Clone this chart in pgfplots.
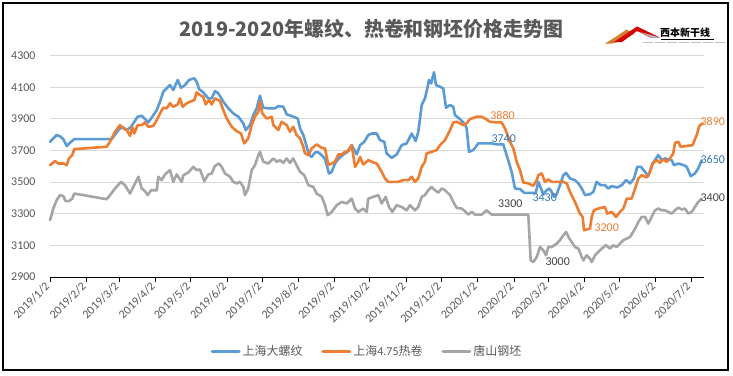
\documentclass[border=0pt]{standalone}
\usepackage{fontspec}
\setmainfont{Carlito}
\newfontfamily\cjk{Noto Sans CJK SC}
\usepackage{pgfplots}
\pgfplotsset{compat=1.18}
\definecolor{cblue}{HTML}{5B9BD5}
\definecolor{corange}{HTML}{ED7D31}
\definecolor{cgray}{HTML}{A5A5A5}
\definecolor{txt}{HTML}{595959}
\definecolor{gridc}{HTML}{D9D9D9}
\definecolor{lblue}{HTML}{2E75B6}
\definecolor{ldark}{HTML}{404040}
\begin{document}
\begin{tikzpicture}[x=1bp,y=1bp]
\useasboundingbox (0,0) rectangle (733,375);
\fill[white] (0,0) rectangle (733,375);
\draw[black, line width=1.2bp] (3,5) rectangle (728,372);
\begin{axis}[
  at={(50bp,98bp)}, anchor=south west, scale only axis,
  width=654.3bp, height=221.3bp,
  xmin=0, xmax=558.4, ymin=2900, ymax=4300,
  clip=false,
  axis x line*=bottom, axis y line*=left,
  y axis line style={draw=none},
  x axis line style={black, line width=1bp},
  ytick={2900,3100,...,4300},
  ytick style={draw=none},
  xtick={0,31,59,90,120,151,181,212,243,273,304,334,365,396,425,456,486,517,547},
  xticklabels={2019/1/2,2019/2/2,2019/3/2,2019/4/2,2019/5/2,2019/6/2,2019/7/2,2019/8/2,2019/9/2,2019/10/2,2019/11/2,2019/12/2,2020/1/2,2020/2/2,2020/3/2,2020/4/2,2020/5/2,2020/6/2,2020/7/2},
  xtick style={black, line width=0.8bp},
  tick align=outside, major tick length=5bp,
  ymajorgrids, grid style={gridc, line width=0.9bp},
  /pgf/number format/assume math mode=true,
  /pgf/number format/1000 sep={},
  yticklabel style={font=\fontsize{12}{14}\selectfont, text=txt, xshift=-6bp},
  xticklabel style={font=\fontsize{12}{14}\selectfont, text=txt, rotate=45, anchor=east},
  legend columns=3,
  legend style={at={(axis description cs:0.4845,-0.3344)}, anchor=center, draw=none, fill=none,
    font=\fontsize{12}{14}\selectfont, text=txt,
    /tikz/every even column/.append style={column sep=17bp}, inner sep=1bp},
  legend cell align=left,
  legend image code/.code={\draw[#1, line width=3bp, line cap=round] (0bp,0bp) -- (27bp,0bp);},
  every axis plot/.append style={line width=2.6bp, line join=round, line cap=round},
]
\addplot[cblue] coordinates {
(0,3755)(5.7,3798)(8.5,3790)(11.4,3772)(14.3,3728)(17.1,3750)(20.7,3772)(48.4,3772)(52.7,3772)(58.3,3829)(61.7,3850)(65.5,3829)(69.1,3850)(74.8,3914)(78.3,3920)(81.1,3899)(83.9,3878)(87.3,3914)(91.1,3956)(93.9,4009)(96.7,4072)(102.4,4114)(105.2,4083)(109,4146)(111.8,4097)(115.2,4114)(118.6,4146)(123.1,4157)(125.2,4135)(127.2,4089)(130.8,4068)(135.1,4030)(138,4030)(140.8,4076)(143.6,4062)(147.9,4009)(152.2,3967)(156.4,3935)(160.7,3914)(165,3872)(167,3829)(170.7,3861)(173.5,3924)(176.4,3967)(179.2,4047)(182,3971)(186.3,3967)(192,3967)(194.8,3981)(199.1,3977)(202,3929)(207.6,3914)(211.4,3903)(213.4,3840)(216.2,3798)(219.1,3724)(221,3675)(223.3,3660)(226.2,3688)(229,3688)(231.9,3671)(234.7,3646)(238.1,3555)(240.4,3565)(243.2,3618)(246,3646)(250.3,3675)(253.2,3688)(257.5,3734)(261.8,3675)(264.6,3734)(268.2,3755)(271.6,3798)(274.8,3808)(278.8,3808)(281.6,3766)(285.3,3755)(287.3,3682)(291.6,3654)(295.9,3675)(300.1,3734)(304.4,3745)(308.7,3808)(312.1,3760)(314.3,3819)(315.8,3903)(317.2,3988)(320,4030)(322,4093)(323.4,4146)(325.2,4125)(327.7,4195)(329.4,4114)(332.8,4104)(335.6,4093)(338,3971)(341.4,3988)(344.2,3977)(345.6,3924)(349.9,3899)(354.2,3865)(355.6,3840)(357.6,3692)(361.2,3703)(365.5,3745)(376.9,3745)(381.2,3739)(386.8,3739)(389.7,3671)(394,3565)(396.8,3460)(401.1,3456)(404.8,3432)(414.5,3432)(416.7,3502)(421,3424)(423.9,3449)(426.1,3460)(428.2,3438)(430.1,3407)(432.4,3424)(435.2,3481)(438.1,3544)(440.4,3559)(443.8,3523)(448,3513)(450.9,3492)(453.8,3460)(456.6,3418)(460.8,3424)(463.7,3438)(466.5,3502)(470,3481)(473.6,3481)(476.4,3460)(479.4,3475)(484.1,3466)(487.9,3481)(491.6,3513)(495,3492)(498.4,3523)(501.2,3597)(504.3,3597)(507.8,3565)(510.6,3538)(514.3,3618)(519.1,3671)(522,3639)(524.8,3650)(530.6,3639)(532.5,3607)(536.2,3618)(541,3607)(543.4,3597)(546.8,3538)(550.4,3555)(553.2,3587)(556.2,3639)
};
\addlegendentry{{\cjk 上海大螺纹}}
\addplot[corange] coordinates {
(0,3608)(4.3,3633)(7.1,3618)(11.4,3618)(14.3,3608)(16.2,3650)(19,3671)(20.7,3709)(48.4,3724)(51.2,3755)(55.5,3819)(59.7,3861)(62.6,3840)(65.5,3829)(68.3,3793)(70.2,3850)(71.9,3808)(74.8,3861)(78.3,3861)(81.1,3878)(83.9,3850)(88.2,3856)(91.1,3893)(93.9,3935)(96.7,3971)(99.6,3967)(102.4,3999)(105.2,3977)(109,3992)(110.9,4030)(113.2,3977)(116.7,3999)(120.9,4013)(123.1,4019)(125.2,4068)(128,4051)(130.8,4040)(132.9,3992)(135.7,4019)(138,3992)(140.8,4030)(145.1,4013)(147.9,3956)(150.8,3903)(155.1,3850)(159.3,3823)(163,3808)(165.8,3745)(169.2,3777)(172.1,3861)(174.9,3914)(177.8,3945)(179.2,4009)(181.2,3935)(184.9,3903)(189.2,3914)(190.6,3861)(194.8,3829)(197.7,3882)(202,3861)(204.8,3819)(207.6,3850)(210.5,3798)(213.4,3777)(216.2,3724)(217.6,3682)(220.5,3671)(223.3,3713)(227.6,3739)(231.9,3717)(234.7,3713)(237.5,3608)(240.4,3618)(243.2,3629)(246,3675)(248.9,3675)(251.8,3692)(254.6,3696)(257.5,3734)(260.3,3597)(263.1,3629)(264.6,3660)(267.4,3612)(271.6,3639)(275.9,3625)(278.8,3618)(283.1,3565)(285.9,3523)(288.7,3502)(297.2,3502)(301.5,3513)(305.8,3513)(308.7,3534)(311.5,3502)(314.3,3523)(317.2,3597)(320,3629)(321.4,3682)(325.7,3692)(330,3703)(332.8,3734)(337.1,3766)(341.4,3829)(344.2,3878)(347.1,3882)(352.7,3861)(355.6,3872)(358.4,3899)(364.1,3914)(368.4,3914)(371.2,3903)(375.5,3882)(381.2,3878)(385.4,3878)(388.3,3840)(392.6,3755)(395.4,3713)(398.3,3629)(401.1,3576)(403.9,3498)(408.2,3492)(412.5,3477)(415.4,3513)(416.7,3544)(419.6,3555)(422.4,3502)(425.2,3517)(428.2,3502)(438.1,3502)(441,3492)(443.8,3438)(448,3375)(452.3,3301)(454.6,3280)(455.7,3196)(460.8,3206)(462.3,3280)(464.2,3322)(467.9,3333)(473.6,3343)(475.6,3301)(479.4,3312)(483.1,3280)(486.4,3312)(489.3,3333)(492.2,3396)(496.4,3396)(499.3,3460)(502.1,3523)(505,3544)(509.2,3530)(512,3565)(514.3,3618)(517.8,3639)(520.6,3622)(523.4,3644)(526.3,3629)(529.1,3650)(531.9,3682)(533.4,3749)(536.2,3755)(538.2,3724)(548.4,3734)(551.9,3798)(554.1,3855)(557,3872)
};
\addlegendentry{{\cjk 上海}4.75{\cjk 热卷}}
\addplot[cgray] coordinates {
(0,3259)(2.8,3333)(5.7,3386)(8.5,3418)(11.4,3411)(13.4,3380)(16.2,3380)(19,3396)(20.7,3428)(48.4,3392)(51.2,3418)(55.5,3460)(60.6,3502)(64,3481)(68.3,3428)(71.1,3470)(75.4,3534)(78.3,3460)(81.1,3443)(83.4,3418)(86.2,3449)(91.1,3449)(92.4,3534)(95.3,3513)(98.1,3549)(102.4,3576)(105.2,3502)(108.1,3549)(112.4,3502)(113.8,3544)(118,3561)(122.3,3597)(125.2,3576)(128,3580)(131.7,3506)(135.1,3549)(138,3555)(140.8,3603)(144.2,3618)(146.5,3597)(149.3,3555)(153.6,3534)(156.4,3502)(159.3,3492)(162.1,3502)(165,3470)(166.4,3418)(169.2,3460)(172.1,3576)(174.9,3607)(177.8,3671)(179.2,3692)(182,3629)(186.3,3618)(190.6,3650)(193.5,3629)(196.3,3639)(199.1,3622)(202,3650)(204.8,3622)(207.6,3650)(210.5,3607)(213.4,3565)(217,3544)(220.5,3481)(224.7,3470)(227.6,3428)(231.9,3407)(234.7,3354)(237,3291)(240.4,3312)(244.7,3354)(248.9,3375)(253.2,3365)(257.5,3396)(260.3,3333)(263.1,3312)(267.4,3333)(270.3,3312)(271.6,3396)(275.9,3407)(280.2,3418)(283.1,3365)(286.5,3407)(289.3,3343)(292.1,3312)(295.9,3354)(300.1,3343)(304.4,3322)(307.2,3354)(311.5,3322)(314.3,3343)(317.2,3407)(320,3418)(322.8,3449)(325.7,3470)(328.6,3449)(331.4,3434)(334.3,3460)(337.1,3449)(341.4,3418)(344.2,3375)(347.1,3337)(351.3,3333)(354.2,3316)(357,3295)(359.9,3312)(362.7,3295)(368.4,3295)(372.6,3322)(376.9,3295)(408.2,3295)(410.2,3006)(412.5,2995)(415.4,3027)(418.2,3090)(421,3069)(423.3,3037)(425.2,3090)(428.2,3090)(432.4,3111)(435.2,3133)(438.1,3164)(440.4,3185)(443.2,3143)(445.2,3122)(448,3090)(450.9,3080)(453.8,3027)(455.2,3006)(458,3037)(460.8,3016)(462.3,2995)(465.1,3037)(467.9,3058)(470.8,3080)(474.5,3101)(477.9,3080)(480.7,3101)(483.6,3090)(486.4,3111)(489.3,3133)(492.2,3143)(495,3153)(499.3,3206)(502.1,3248)(505,3280)(507.8,3280)(510.6,3238)(513.5,3280)(516.3,3322)(519.1,3333)(522,3322)(524.8,3322)(527.7,3312)(530.6,3301)(533.4,3322)(536.2,3339)(539.1,3327)(541.9,3333)(544.7,3301)(547.6,3312)(550.4,3343)(553.2,3375)(556.2,3396)
};
\addlegendentry{{\cjk 唐山钢坯}}
\begin{scope}[every node/.style={font=\fontsize{12}{14}\selectfont, inner sep=0pt}]
\node[text=corange] at (axis cs:386.2,3921) {3880};
\node[text=lblue] at (axis cs:387.2,3774) {3740};
\node[text=ldark] at (axis cs:392.8,3367) {3300};
\node[text=lblue] at (axis cs:422.2,3404) {3430};
\node[text=corange] at (axis cs:475.1,3214) {3200};
\node[text=ldark] at (axis cs:433.3,2998) {3000};
\node[text=corange] at (axis cs:565.6,3885) {3890};
\node[text=lblue] at (axis cs:565.6,3642) {3650};
\node[text=ldark] at (axis cs:565.6,3399) {3400};
\end{scope}
\end{axis}
% title
\node[text=txt, font=\cjk\bfseries\fontsize{20}{22}\selectfont] at (371.5,346) {2019-2020年螺纹、热卷和钢坯价格走势图};
% logo
\fill[brown!75!orange] (605,331.5) .. controls (614,337) .. (626.5,345.5) -- (634,341) -- (627,337.5) .. controls (618,333) .. (612,331.5) -- cycle;
\fill[red!85!black] (614,333) -- (637,348.5) -- (660,337.5) -- (650,337.5) -- (637,344) -- (622,333) -- cycle;
\fill[gray!60] (640,343) -- (660,337.5) -- (652,336.8) -- cycle;
\node[anchor=west, inner sep=0pt, font=\cjk\bfseries\fontsize{10}{10}\selectfont] at (660,342) {西本新干线};
\draw[black, line width=0.6bp] (661,335.8) -- (714,335.8);
\draw[gray!50, line width=1.2bp, dash pattern=on 10bp off 2bp] (643,332.5) -- (725,332.5);
\end{tikzpicture}
\end{document}
